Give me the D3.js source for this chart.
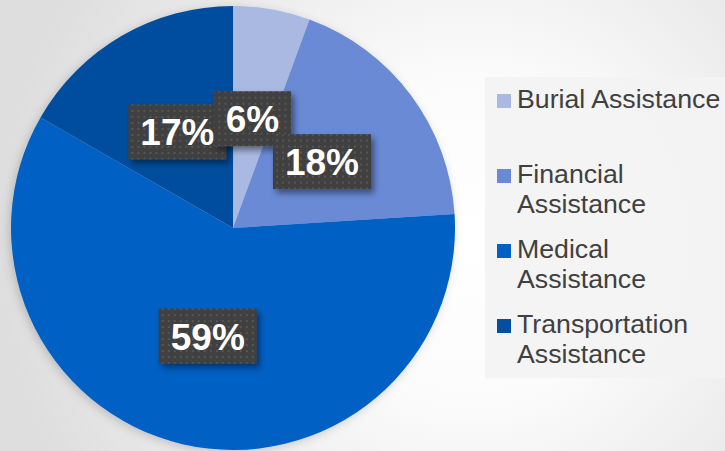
<!DOCTYPE html>
<html>
<head>
<meta charset="utf-8">
<script src="https://cdn.jsdelivr.net/npm/d3@7"></script>
<style>
  body { margin: 0; }
  svg { display: block; }
</style>
</head>
<body>
<div id="chart"></div>
<script>
// data
const categories = ["Burial Assistance", "Financial Assistance", "Medical Assistance", "Transportation Assistance"];
const values = [5.6, 18.4, 59.3, 16.7];
const colors = ["#a9b9e2", "#6a8ad6", "#0461c4", "#024e9f"];

const width = 725, height = 451;
const cx = 233, cy = 228, radius = 222;

const svg = d3.select("#chart")
    .append("svg")
    .attr("width", width)
    .attr("height", height);

const defs = svg.append("defs");

// background glow
const bg = defs.append("radialGradient")
    .attr("id", "bg")
    .attr("gradientUnits", "userSpaceOnUse")
    .attr("cx", 470).attr("cy", 240).attr("r", 470);
bg.append("stop").attr("offset", 0).attr("stop-color", "#ffffff");
bg.append("stop").attr("offset", 0.35).attr("stop-color", "#fbfbfb");
bg.append("stop").attr("offset", 1).attr("stop-color", "#dedede");

// dotted label texture
const pat = defs.append("pattern")
    .attr("id", "dots")
    .attr("patternUnits", "userSpaceOnUse")
    .attr("width", 6).attr("height", 6);
pat.append("rect").attr("width", 6).attr("height", 6).attr("fill", "#404040");
pat.append("rect").attr("x", 2).attr("y", 2).attr("width", 2).attr("height", 2).attr("fill", "#565656");

const lblShadow = defs.append("filter").attr("id", "lblShadow")
    .attr("x", "-20%").attr("y", "-20%").attr("width", "150%").attr("height", "160%");
lblShadow.append("feDropShadow")
    .attr("dx", 3).attr("dy", 4).attr("stdDeviation", 3)
    .attr("flood-color", "#000").attr("flood-opacity", 0.45);

const pieShadow = defs.append("filter").attr("id", "pieShadow")
    .attr("x", "-10%").attr("y", "-10%").attr("width", "120%").attr("height", "120%");
pieShadow.append("feDropShadow")
    .attr("dx", -2).attr("dy", 2).attr("stdDeviation", 5)
    .attr("flood-color", "#000").attr("flood-opacity", 0.18);

svg.append("rect")
    .attr("width", width).attr("height", height)
    .attr("fill", "url(#bg)");

// legend box
svg.append("rect")
    .attr("x", 485).attr("y", 77)
    .attr("width", 240).attr("height", 301)
    .attr("fill", "#f3f3f3")
    .attr("fill-opacity", 0.9);

// pie
const pie = d3.pie().sort(null).value(d => d);
const arcs = pie(values);
const arc = d3.arc().innerRadius(0).outerRadius(radius);

const g = svg.append("g")
    .attr("transform", "translate(" + cx + "," + cy + ")");

g.append("g")
    .attr("filter", "url(#pieShadow)")
    .selectAll("path")
    .data(arcs)
    .enter()
    .append("path")
    .attr("d", arc)
    .attr("fill", (d, i) => colors[i]);

// data labels (drawn so the overlaps stack like the original)
const drawOrder = [3, 0, 1, 2];
const total = d3.sum(values);
drawOrder.forEach(i => {
    const [lx, ly] = arc.centroid(arcs[i]);
    const lg = g.append("g").attr("transform", "translate(" + lx + "," + ly + ")");
    const box = lg.append("rect")
        .attr("fill", "url(#dots)")
        .attr("filter", "url(#lblShadow)");
    const t = lg.append("text")
        .attr("text-anchor", "middle")
        .attr("y", 13.5)
        .attr("fill", "#ffffff")
        .style("font-family", "'Liberation Sans', Arial, sans-serif")
        .style("font-weight", "bold")
        .style("font-size", "37px")
        .text(Math.round(values[i] / total * 100) + "%");
    const w = t.node().getComputedTextLength() + 24;
    box.attr("x", -w / 2).attr("y", -27.5).attr("width", w).attr("height", 55);
});

// legend
const legend = svg.append("g");
categories.forEach((name, i) => {
    const y0 = 108 + i * 75;
    legend.append("rect")
        .attr("x", 497).attr("y", y0 - 14)
        .attr("width", 14).attr("height", 14)
        .attr("fill", colors[i]);
    const t = legend.append("text")
        .attr("x", 517).attr("y", y0)
        .attr("fill", "#404040")
        .style("font-family", "'Liberation Sans', Arial, sans-serif")
        .style("font-size", "26.7px");
    // wrap at spaces when it does not fit in the box
    const words = name.split(" ");
    let line = [], lineNo = 0;
    let tspan = t.append("tspan").attr("x", 517).attr("y", y0);
    words.forEach(wd => {
        line.push(wd);
        tspan.text(line.join(" "));
        if (tspan.node().getComputedTextLength() > 206 && line.length > 1) {
            line.pop();
            tspan.text(line.join(" "));
            line = [wd];
            lineNo++;
            tspan = t.append("tspan").attr("x", 517).attr("y", y0 + lineNo * 30).text(wd);
        }
    });
});
</script>
</body>
</html>
